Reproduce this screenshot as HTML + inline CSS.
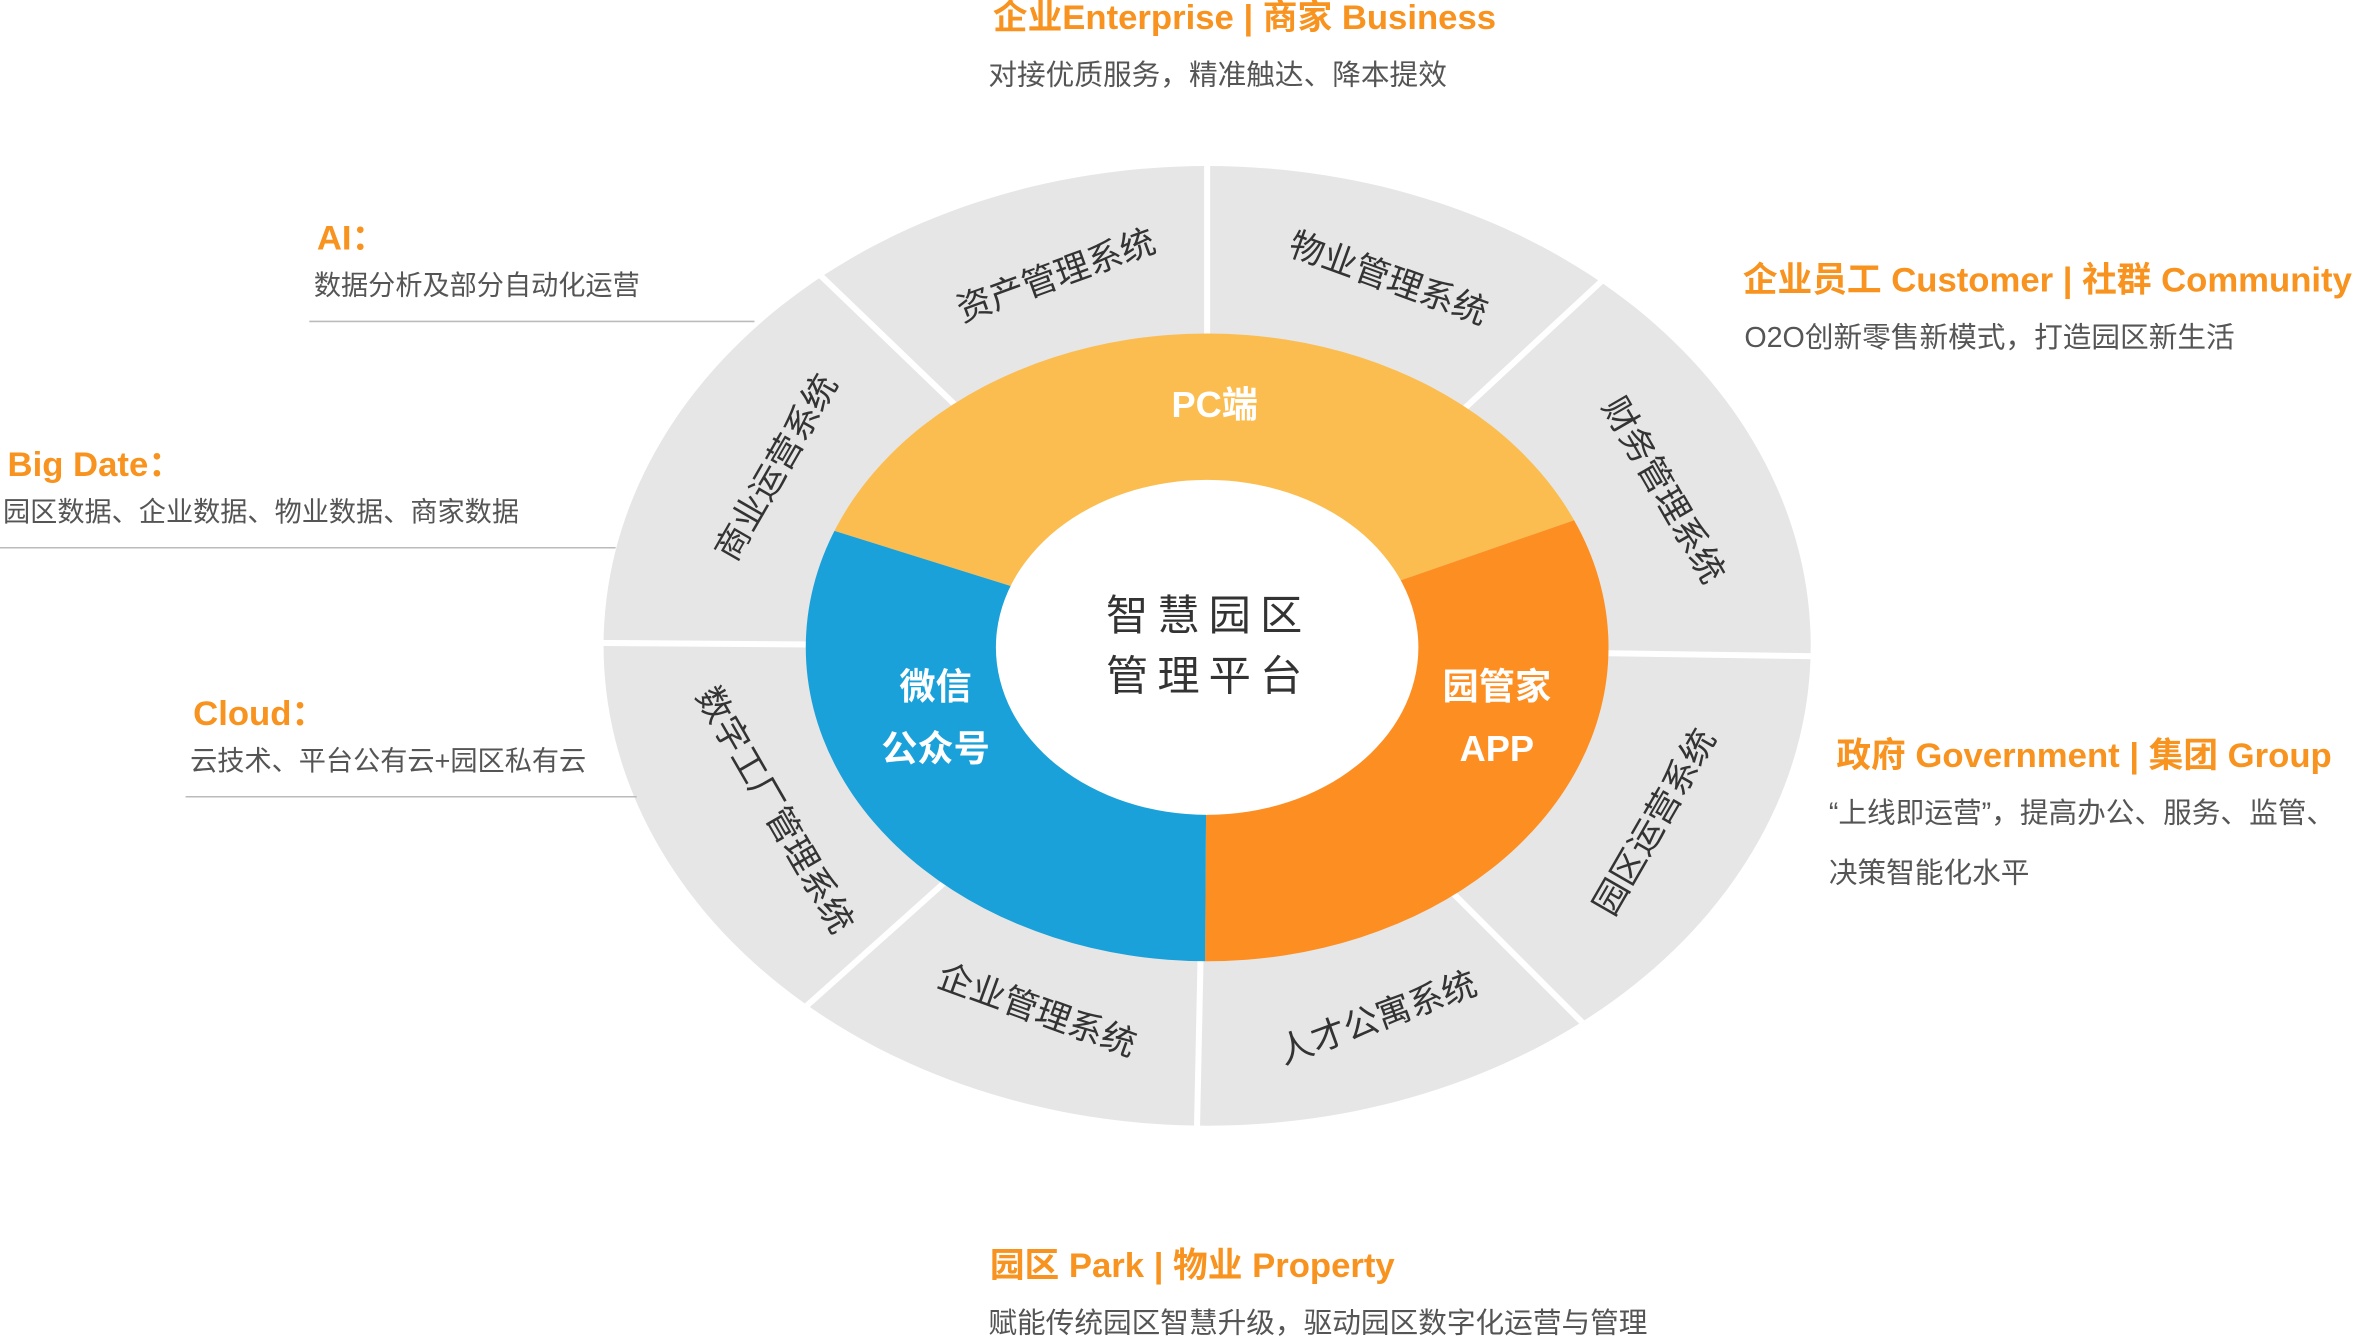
<!DOCTYPE html>
<html><head><meta charset="utf-8"><style>
html,body{margin:0;padding:0;background:#fff;}
svg{display:block;}
text{font-family:"Liberation Sans","Noto Sans CJK SC",sans-serif;}
.o{fill:#F7931E;font-size:23px;font-weight:bold;}
.g{fill:#555;font-size:19px;}
.s{fill:#555;font-size:18px;}
.r{fill:#333;font-size:23px;}
.w{fill:#fff;font-size:24px;font-weight:bold;}
</style></head><body>
<svg width="2366" height="1340" viewBox="0 0 1568 888" xmlns="http://www.w3.org/2000/svg">
<defs>
<clipPath id="mid"><ellipse cx="800" cy="429" rx="266" ry="208"/></clipPath>
</defs>
<ellipse cx="800" cy="428" rx="400" ry="318" fill="#E6E6E6"/>
<g stroke="#fff" stroke-width="4">
<line x1="800" y1="429" x2="800" y2="100"/>
<line x1="800" y1="429" x2="538" y2="177"/>
<line x1="800" y1="429" x2="390" y2="426"/>
<line x1="800" y1="429" x2="533" y2="668"/>
<line x1="800" y1="429" x2="793" y2="760"/>
<line x1="800" y1="429" x2="1055" y2="684"/>
<line x1="800" y1="429" x2="1210" y2="435"/>
<line x1="800" y1="429" x2="1066" y2="182"/>
</g>
<g clip-path="url(#mid)">
<polygon points="800,429 0,179 0,0 1568,0 1568,163" fill="#FBBD4F"/>
<polygon points="800,429 1568,163 1568,888 797,888" fill="#FD8E22"/>
<polygon points="800,429 797,888 0,888 0,179" fill="#1BA1D9"/>
</g>
<ellipse cx="800" cy="429" rx="140" ry="111" fill="#fff"/>

<g class="r" text-anchor="middle" dominant-baseline="central">
<text transform="translate(700,183) rotate(-20)">资产管理系统</text>
<text transform="translate(920,185) rotate(20)">物业管理系统</text>
<text transform="translate(1102,325) rotate(60)">财务管理系统</text>
<text transform="translate(1097,545) rotate(-60)">园区运营系统</text>
<text transform="translate(913,675) rotate(-20)">人才公寓系统</text>
<text transform="translate(687,670) rotate(20)">企业管理系统</text>
<text transform="translate(513,537) rotate(60)">数字工厂管理系统</text>
<text transform="translate(515,310) rotate(-60)">商业运营系统</text>
</g>
<g class="w" text-anchor="middle" dominant-baseline="central">
<text x="805" y="268">PC端</text>
<text x="620" y="455">微信</text>
<text x="620" y="496">公众号</text>
<text x="992" y="455">园管家</text>
<text x="992" y="496">APP</text>
</g>
<g text-anchor="middle" dominant-baseline="central" fill="#333" style="font-size:28px;letter-spacing:6px">
<text x="801" y="408">智慧园区</text>
<text x="801" y="448">管理平台</text>
</g>

<g dominant-baseline="central">
<text class="o" x="658" y="12">企业Enterprise | 商家 Business</text>
<text class="g" x="655" y="50">对接优质服务，精准触达、降本提效</text>
<text class="o" x="210" y="158">AI：</text>
<text class="s" x="208" y="189">数据分析及部分自动化运营</text>
<text class="o" x="5" y="308">Big Date：</text>
<text class="s" x="2" y="339">园区数据、企业数据、物业数据、商家数据</text>
<text class="o" x="128" y="473">Cloud：</text>
<text class="s" x="126" y="504">云技术、平台公有云+园区私有云</text>
<text class="o" x="1155" y="186">企业员工 Customer | 社群 Community</text>
<text class="g" x="1156" y="224">O2O创新零售新模式，打造园区新生活</text>
<text class="o" x="1217" y="501">政府 Government | 集团 Group</text>
<text class="g" x="1212" y="539">“上线即运营”，提高办公、服务、监管、</text>
<text class="g" x="1212" y="579">决策智能化水平</text>
<text class="o" x="656" y="839">园区 Park | 物业 Property</text>
<text class="g" x="655" y="877">赋能传统园区智慧升级，驱动园区数字化运营与管理</text>
</g>
<g stroke="#bbb" stroke-width="1">
<line x1="205" y1="213" x2="500" y2="213"/>
<line x1="0" y1="363" x2="408" y2="363"/>
<line x1="123" y1="528" x2="422" y2="528"/>
</g>
</svg>
</body></html>
